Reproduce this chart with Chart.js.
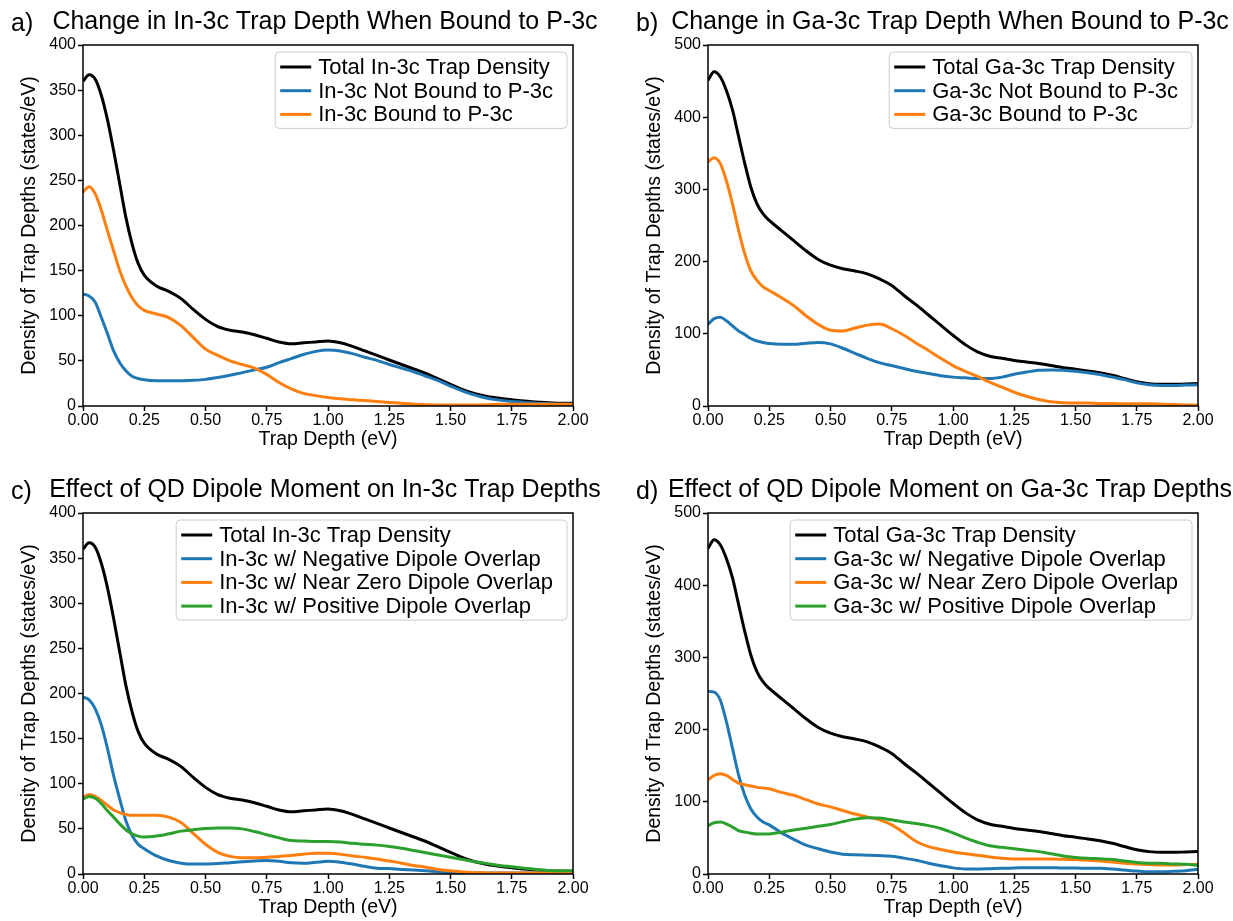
<!DOCTYPE html>
<html><head><meta charset="utf-8">
<script src="https://cdn.jsdelivr.net/npm/chart.js@4.4.0/dist/chart.umd.min.js"></script>
<style>
html,body{margin:0;padding:0;background:#fff;overflow:hidden;}
#wrap{position:relative;width:1233px;height:921px;overflow:hidden;background:#fff;}
.pane{position:absolute;width:656px;height:452px;}
.pane canvas{display:block;}
.tag{position:absolute;font-family:'Liberation Sans',Arial,sans-serif;font-size:25px;line-height:30px;color:#000;}
</style></head>
<body><div id="wrap">
<div class="pane" style="left:-3px;top:0"><canvas id="ca" width="656" height="452"></canvas></div>
<div class="pane" style="left:622px;top:0"><canvas id="cb" width="656" height="452"></canvas></div>
<div class="pane" style="left:-3px;top:468px"><canvas id="cc" width="656" height="452"></canvas></div>
<div class="pane" style="left:622px;top:468px"><canvas id="cd" width="656" height="452"></canvas></div>
<div class="tag" style="left:11px;top:7px">a)</div>
<div class="tag" style="left:636px;top:7px">b)</div>
<div class="tag" style="left:11px;top:475px">c)</div>
<div class="tag" style="left:636px;top:475px">d)</div>
</div>
<script>
// ---- data ----
const trapDepth = [0, 0.025, 0.05, 0.075, 0.1, 0.125, 0.15, 0.175, 0.2, 0.225, 0.25, 0.3, 0.35, 0.4, 0.45, 0.5, 0.55, 0.6, 0.65, 0.7, 0.75, 0.8, 0.85, 0.9, 0.95, 1.0, 1.05, 1.1, 1.15, 1.2, 1.25, 1.3, 1.35, 1.4, 1.45, 1.5, 1.55, 1.6, 1.65, 1.7, 1.75, 1.8, 1.85, 1.9, 1.95, 2.0];

const inTotal    = [360, 367, 362, 344, 317, 283, 246, 209, 180, 158, 145, 133, 127, 119, 107, 96, 88, 84, 82, 79, 75, 71, 69, 70, 71, 72, 70, 66, 61, 56, 51, 46, 41, 36, 30, 24, 18, 13.5, 10.5, 8.5, 7, 5.5, 4.5, 3.5, 3, 3];
const inNotBound = [124, 122, 115, 98, 80, 61, 48, 39, 33, 30.5, 29, 28, 28, 28, 28.5, 29.5, 31.5, 34, 37, 40, 43, 48, 52.5, 57, 60.5, 62, 61, 58, 54, 50.5, 46, 42, 38, 33, 28, 22, 16.5, 12, 8.5, 6.5, 5, 4, 3, 2.5, 2, 2];
const inBound    = [237, 243, 235, 217, 194, 172, 150, 133, 120, 111, 106, 102, 98, 89, 76, 63, 56, 50, 46, 42, 35, 26, 19, 14, 11.5, 9.5, 8, 7, 6, 5, 4, 3, 2, 1.5, 1, 1, 1, 1, 1.5, 2, 2, 2, 2, 2, 2, 2];

const gaTotal    = [451, 463, 456, 437, 410, 373, 336, 303, 280, 266, 257, 243, 229, 215, 203, 195, 190, 187, 183, 176, 167, 153, 140, 126, 112, 98, 85, 75, 69, 66, 63, 61, 59, 56, 53, 51, 48.5, 46, 42.5, 38, 33.5, 31, 30, 30, 30.5, 31];
const gaNotBound = [113, 121, 123, 118, 111, 104, 99, 93.5, 90, 88, 86.5, 85.5, 85.5, 87, 88, 86, 80, 73, 66, 60, 56, 52, 48, 45, 42, 40, 39, 38, 38, 40, 44, 47, 49.5, 50, 49.5, 48, 46, 43.5, 40, 36.5, 32, 29.5, 28.5, 28.5, 29, 29.5];
const gaBound    = [338, 344, 336, 312, 280, 243, 211, 187, 174, 165, 160, 150, 139, 125, 113, 105, 104, 108, 112, 113.5, 107, 98, 87, 77, 66, 56, 48, 41, 33, 26, 19, 13.5, 9, 6, 4.5, 4, 4, 3.5, 3.5, 3, 3, 3, 2.5, 2, 1.5, 1];

const inNegative = [196, 193, 183, 165, 139, 109, 83, 59, 43, 33, 28, 20, 15, 12, 11, 11, 11.5, 12.5, 13.5, 14.5, 15, 14, 12.5, 12, 13, 14, 13, 11, 8.5, 6.5, 6, 5, 4.5, 3.5, 2.5, 1.5, 1, 1, 1, 1, 1, 1, 1, 1, 1, 1];
const inNearZero = [85, 88, 86, 81.5, 76, 71, 68, 66, 65, 65, 65, 65, 63, 57, 45, 33, 24, 19.5, 18, 18, 18.5, 19.5, 20.5, 22, 23, 23, 22, 20, 18.5, 16.5, 14.5, 12, 9.5, 7.5, 5, 3.5, 2.2, 1.5, 1.2, 1, 1, 1, 1, 1, 1, 1];
const inPositive = [83, 86, 84, 78, 70, 63, 55.5, 49, 44.5, 42, 41, 42, 44.5, 47.5, 49, 50.5, 51, 51, 50, 47, 43.5, 40, 37, 36.5, 36, 36, 35.5, 34, 33, 32, 30.5, 28.5, 26, 23.5, 21, 18.5, 16, 13.5, 11.5, 9.5, 8, 6.5, 5, 4, 3.5, 3.5];

const gaNegative = [253, 252, 241, 211, 174, 137, 109, 90, 79, 72, 68, 57, 48, 40, 35, 30.5, 27.5, 26.5, 26, 25.5, 24.5, 22, 19, 15, 11.5, 8.5, 7, 7, 7.4, 7.8, 8.3, 8.8, 8.8, 8.8, 8.3, 8.3, 7.8, 7.8, 7, 5.5, 4, 3, 3, 3.7, 4.6, 6.5];
const gaNearZero = [130, 136.5, 139, 136.5, 131, 126, 123.5, 122, 120, 119, 118, 113, 109, 103, 97, 93, 88, 83, 79, 75, 68, 57, 45, 38, 34, 30.5, 28, 26, 23.5, 21.7, 20.8, 20.8, 20.8, 20.8, 20.3, 20, 19, 18, 16.6, 15, 14, 13, 12.5, 12.5, 13, 13.4];
const gaPositive = [67, 71, 72, 69.5, 65, 60, 58, 56.5, 55.5, 55.5, 55.5, 58, 61, 63.5, 66, 68.5, 72.5, 76, 78, 77.5, 75, 72, 70, 67, 63, 57, 50, 44, 39, 37, 35, 33, 31, 28, 25, 23, 21.7, 21, 20, 18, 16, 15, 14.8, 14, 13.4, 12];

const xTickStep = 0.25;
const titles = {
  a: 'Change in In-3c Trap Depth When Bound to P-3c',
  b: 'Change in Ga-3c Trap Depth When Bound to P-3c',
  c: 'Effect of QD Dipole Moment on In-3c Trap Depths',
  d: 'Effect of QD Dipole Moment on Ga-3c Trap Depths'
};

// ---- styling / rendering ----
const FONT = "'Liberation Sans', Arial, Helvetica, sans-serif";
Chart.defaults.font.family = FONT;
Chart.defaults.color = '#000';

const COLORS = { black: '#000000', blue: '#1f77b4', orange: '#ff7f0e', green: '#2ca02c' };

const mplDecor = {
  id: 'mplDecor',
  afterDatasetsDraw(chart) {
    const { ctx, chartArea: a } = chart;
    ctx.save();
    ctx.strokeStyle = '#000';
    ctx.lineWidth = 1.5;
    ctx.strokeRect(a.left, a.top, a.right - a.left, a.bottom - a.top);
    ctx.restore();
  },
  afterDraw(chart) {
    const { ctx, chartArea: a } = chart;
    const items = chart.data.datasets;
    const fs = 22;
    ctx.save();
    ctx.font = fs + 'px ' + FONT;
    let maxW = 0;
    items.forEach(d => { maxW = Math.max(maxW, ctx.measureText(d.label).width); });
    const rowH = 23.7;
    const w = 43 + maxW + 14;
    const h = 15 + (items.length - 1) * rowH + 14;
    const x0 = a.right - 6 - w, y0 = a.top + 7;
    ctx.beginPath();
    if (ctx.roundRect) ctx.roundRect(x0, y0, w, h, 4); else ctx.rect(x0, y0, w, h);
    ctx.fillStyle = 'rgba(255,255,255,0.8)';
    ctx.fill();
    ctx.strokeStyle = '#cccccc';
    ctx.lineWidth = 1;
    ctx.stroke();
    items.forEach((d, i) => {
      const cy = y0 + 15 + i * rowH;
      ctx.beginPath();
      ctx.moveTo(x0 + 5, cy);
      ctx.lineTo(x0 + 36, cy);
      ctx.strokeStyle = d.borderColor;
      ctx.lineWidth = 3;
      ctx.stroke();
      ctx.fillStyle = '#000';
      ctx.textBaseline = 'middle';
      ctx.textAlign = 'left';
      ctx.fillText(d.label, x0 + 43, cy + 1);
    });
    ctx.restore();
  }
};

function series(label, values, color, order) {
  return {
    label,
    data: trapDepth.map((x, i) => ({ x, y: values[i] })),
    borderColor: color,
    backgroundColor: color,
    borderWidth: 3,
    pointRadius: 0,
    fill: false,
    cubicInterpolationMode: 'monotone',
    order
  };
}

function panel(id, title, yMax, yStep, datasets) {
  const tickFont = { size: 16 };
  new Chart(document.getElementById(id), {
    type: 'line',
    data: { datasets },
    plugins: [mplDecor],
    options: {
      responsive: false,
      animation: false,
      events: [],
      layout: { padding: 0 },
      plugins: {
        legend: { display: false },
        tooltip: { enabled: false },
        title: { display: true, text: title, color: '#000', font: { size: 25, weight: 'normal' }, padding: { top: 7, bottom: 8 } }
      },
      scales: {
        x: {
          type: 'linear', min: 0, max: 2,
          ticks: { stepSize: xTickStep, callback: v => Number(v).toFixed(2), color: '#000', font: tickFont, padding: 0, maxRotation: 0, autoSkip: false },
          grid: { display: true, drawOnChartArea: false, drawTicks: true, tickLength: 5, tickWidth: 1.5, tickColor: '#000' },
          border: { display: false },
          title: { display: true, text: 'Trap Depth (eV)', color: '#000', font: { size: 19.5 }, padding: { top: 0, bottom: 1 } },
          afterFit: s => { s.height = 46; }
        },
        y: {
          type: 'linear', position: 'left', min: 0, max: yMax,
          ticks: { stepSize: yStep, color: '#000', font: tickFont, padding: 2 },
          grid: { display: true, drawOnChartArea: false, drawTicks: true, tickLength: 5, tickWidth: 1.5, tickColor: '#000' },
          border: { display: false },
          title: { display: true, text: 'Density of Trap Depths (states/eV)', color: '#000', font: { size: 19.5 }, padding: { top: 21, bottom: 0 } },
          afterFit: s => { s.width = 86; }
        },
        yr: {
          type: 'linear', position: 'right', min: 0, max: yMax,
          ticks: { display: false },
          grid: { display: false },
          border: { display: false },
          afterFit: s => { s.width = 80; }
        }
      }
    }
  });
}

panel('ca', titles.a, 400, 50, [
  series('Total In-3c Trap Density', inTotal, COLORS.black, 4),
  series('In-3c Not Bound to P-3c', inNotBound, COLORS.blue, 3),
  series('In-3c Bound to P-3c', inBound, COLORS.orange, 2)
]);
panel('cb', titles.b, 500, 100, [
  series('Total Ga-3c Trap Density', gaTotal, COLORS.black, 4),
  series('Ga-3c Not Bound to P-3c', gaNotBound, COLORS.blue, 3),
  series('Ga-3c Bound to P-3c', gaBound, COLORS.orange, 2)
]);
panel('cc', titles.c, 400, 50, [
  series('Total In-3c Trap Density', inTotal, COLORS.black, 4),
  series('In-3c w/ Negative Dipole Overlap', inNegative, COLORS.blue, 3),
  series('In-3c w/ Near Zero Dipole Overlap', inNearZero, COLORS.orange, 2),
  series('In-3c w/ Positive Dipole Overlap', inPositive, COLORS.green, 1)
]);
panel('cd', titles.d, 500, 100, [
  series('Total Ga-3c Trap Density', gaTotal, COLORS.black, 4),
  series('Ga-3c w/ Negative Dipole Overlap', gaNegative, COLORS.blue, 3),
  series('Ga-3c w/ Near Zero Dipole Overlap', gaNearZero, COLORS.orange, 2),
  series('Ga-3c w/ Positive Dipole Overlap', gaPositive, COLORS.green, 1)
]);
</script>
</body></html>
